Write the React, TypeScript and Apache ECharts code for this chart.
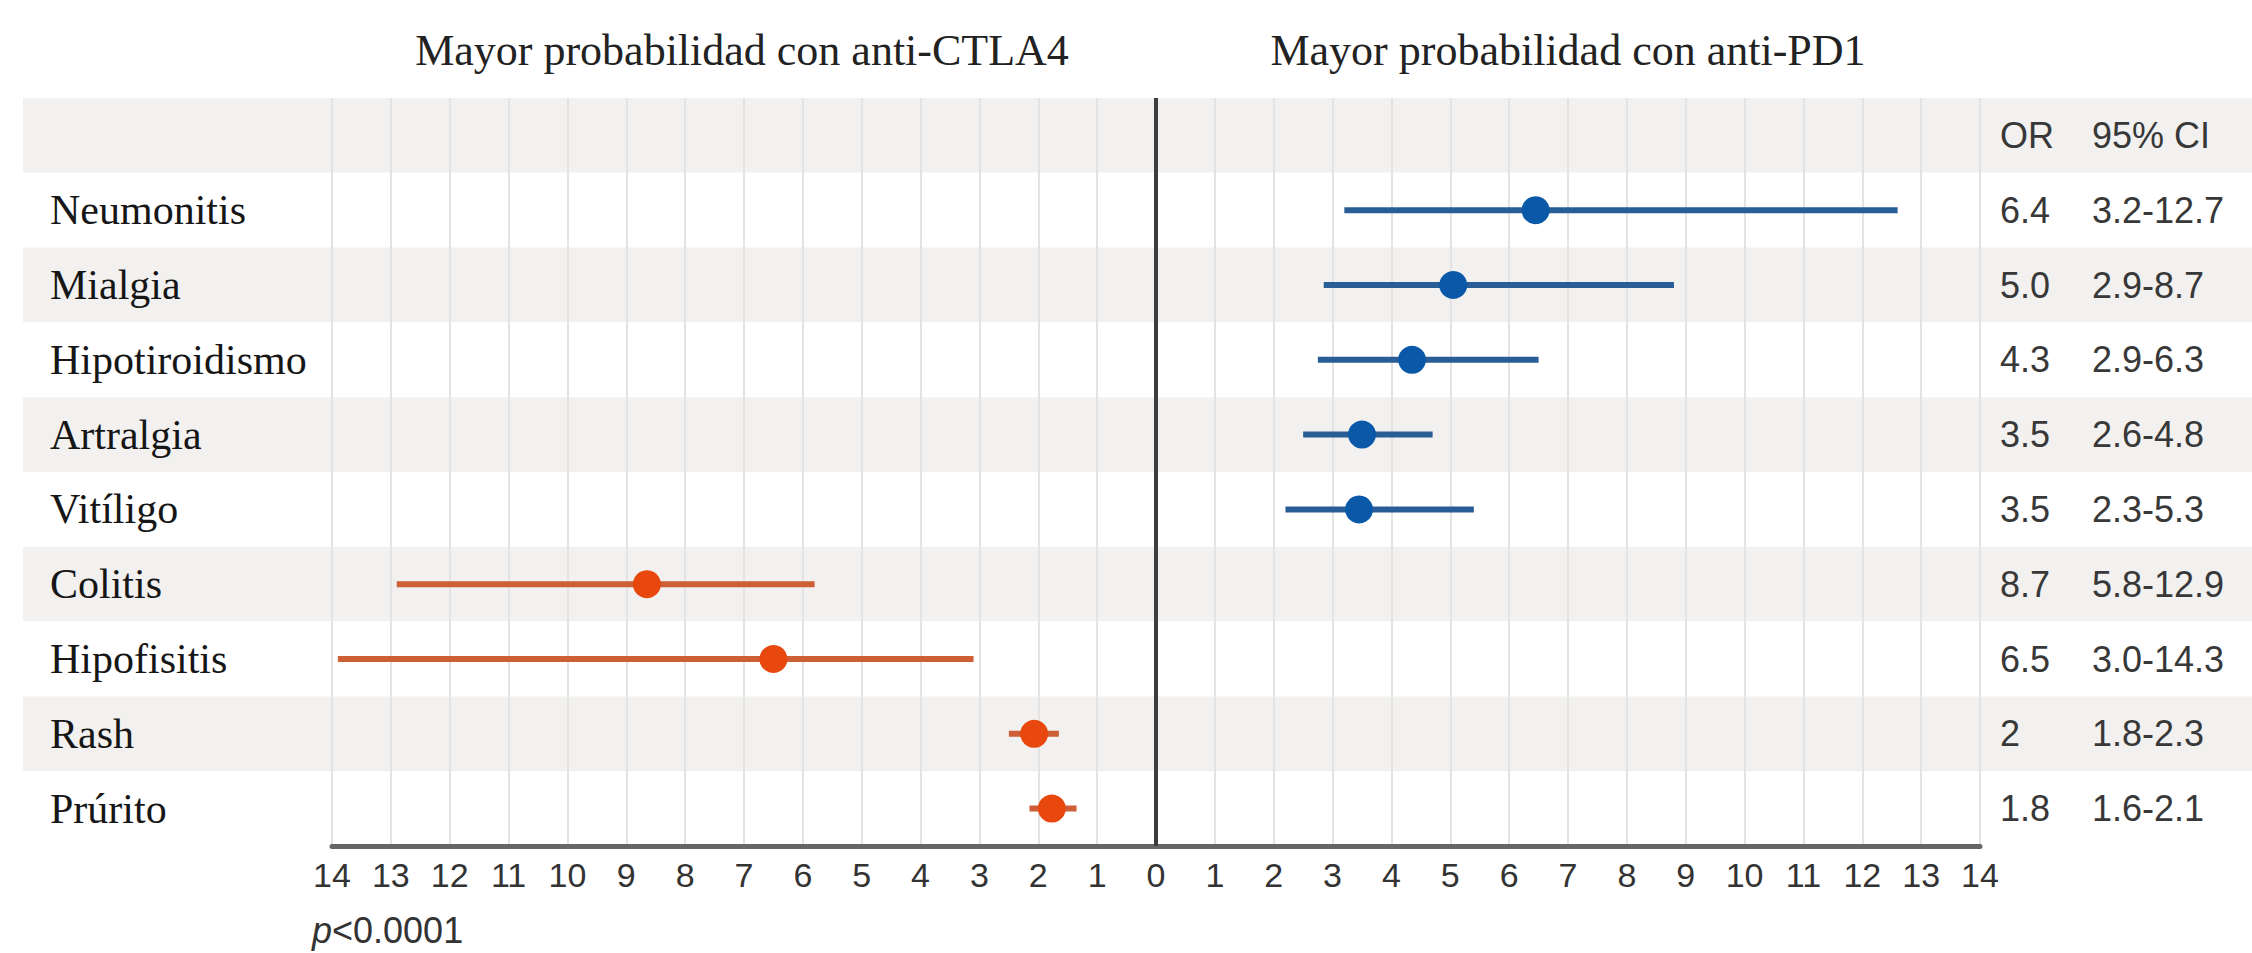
import React, { useEffect, useRef } from "react";
import * as echarts from "echarts";

const categories = ["Neumonitis", "Mialgia", "Hipotiroidismo", "Artralgia", "Vitíligo", "Colitis", "Hipofisitis", "Rash", "Prúrito"];
const favours = ["PD1", "PD1", "PD1", "PD1", "PD1", "CTLA4", "CTLA4", "CTLA4", "CTLA4"];
const oddsRatio = [6.45, 5.05, 4.35, 3.5, 3.45, 8.65, 6.5, 2.07, 1.77];
const ciLow = [3.2, 2.85, 2.75, 2.5, 2.2, 5.8, 3.1, 1.65, 1.35];
const ciHigh = [12.6, 8.8, 6.5, 4.7, 5.4, 12.9, 13.9, 2.5, 2.15];
const orLabels = ["6.4", "5.0", "4.3", "3.5", "3.5", "8.7", "6.5", "2", "1.8"];
const ciLabels = ["3.2-12.7", "2.9-8.7", "2.9-6.3", "2.6-4.8", "2.3-5.3", "5.8-12.9", "3.0-14.3", "1.8-2.3", "1.6-2.1"];
const headerOR = "OR";
const headerCI = "95% CI";
const titleLeft = "Mayor probabilidad con anti-CTLA4";
const titleRight = "Mayor probabilidad con anti-PD1";
const pValue = "<0.0001";
const axisMin = -14;
const axisMax = 14;
const axisInterval = 1;

const COLORS: Record<string, { line: string; dot: string }> = {
  PD1: { line: "#285e95", dot: "#0a58a8" },
  CTLA4: { line: "#cd5e36", dot: "#e8480e" },
};

export default function App() {
  const ref = useRef<HTMLDivElement>(null);
  useEffect(() => {
    if (!ref.current) return;
    const chart = echarts.init(ref.current, undefined, { renderer: "svg" });
    const rows = ["", ...categories];
    const sign = (i: number) => (favours[i] === "CTLA4" ? -1 : 1);
    const labelMap: Record<string, string> = { "": `{a|${headerOR}}{b|${headerCI}}` };
    categories.forEach((c, i) => {
      labelMap[c] = `{a|${orLabels[i]}}{b|${ciLabels[i]}}`;
    });

    const option: any = {
      animation: false,
      backgroundColor: "#ffffff",
      grid: [
        { left: 23, right: 0, top: 98, bottom: 107 },
        { left: 332, right: 272, top: 98, bottom: 107 },
      ],
      xAxis: [
        { gridIndex: 0, type: "value", min: 0, max: 1, show: false },
        {
          gridIndex: 1,
          type: "value",
          min: axisMin,
          max: axisMax,
          interval: axisInterval,
          axisLine: { show: true, onZero: false, lineStyle: { color: "#666666", width: 5 } },
          axisTick: { show: false },
          axisLabel: {
            margin: 12,
            color: "#333333",
            fontFamily: "Liberation Sans, Arial, sans-serif",
            fontSize: 34,
            formatter: (v: number) => String(Math.abs(v)),
          },
          splitLine: { show: true, lineStyle: { color: "#e3e3e3", width: 2 } },
        },
      ],
      yAxis: [
        {
          gridIndex: 0,
          type: "category",
          inverse: true,
          data: rows,
          axisLine: { show: false },
          axisTick: { show: false },
          axisLabel: {
            inside: true,
            margin: 27,
            color: "#161616",
            fontFamily: "Liberation Serif, Times New Roman, serif",
            fontSize: 42,
          },
          splitLine: { show: false },
          splitArea: { show: true, areaStyle: { color: ["#f2f1f0", "#ffffff"] } },
        },
        {
          gridIndex: 1,
          type: "category",
          inverse: true,
          data: rows,
          axisLine: { show: false },
          axisTick: { show: false },
          axisLabel: { show: false },
          splitLine: { show: false },
        },
        {
          gridIndex: 1,
          type: "category",
          position: "right",
          inverse: true,
          data: rows,
          axisLine: { show: false },
          axisTick: { show: false },
          splitLine: { show: false },
          axisLabel: {
            margin: 20,
            align: "left",
            formatter: (v: string) => labelMap[v] ?? "",
            rich: {
              a: { width: 92, fontSize: 36, color: "#383838", fontFamily: "Liberation Sans, Arial, sans-serif", align: "left" },
              b: { fontSize: 36, color: "#383838", fontFamily: "Liberation Sans, Arial, sans-serif", align: "left" },
            },
          },
        },
      ],
      series: [
        {
          type: "custom",
          xAxisIndex: 1,
          yAxisIndex: 1,
          z: 3,
          encode: { x: [0, 1], y: 2 },
          data: categories.map((c, i) => [sign(i) * ciLow[i], sign(i) * ciHigh[i], i + 1]),
          renderItem: (params: any, api: any) => {
            const y = api.value(2);
            const p1 = api.coord([api.value(0), y]);
            const p2 = api.coord([api.value(1), y]);
            const col = COLORS[favours[params.dataIndex]].line;
            return {
              type: "line",
              shape: { x1: p1[0], y1: p1[1], x2: p2[0], y2: p2[1] },
              style: { stroke: col, lineWidth: 6 },
            };
          },
        },
        {
          type: "scatter",
          xAxisIndex: 1,
          yAxisIndex: 1,
          z: 4,
          symbol: "circle",
          symbolSize: 28,
          data: categories.map((c, i) => ({
            value: [sign(i) * oddsRatio[i], i + 1],
            itemStyle: { color: COLORS[favours[i]].dot, opacity: 1 },
          })),
          markLine: {
            silent: true,
            symbol: "none",
            label: { show: false },
            lineStyle: { color: "#3d3d3d", width: 4, type: "solid" },
            data: [{ xAxis: 0 }],
          },
        },
      ],
      graphic: [
        {
          type: "text",
          x: 742,
          y: 50,
          style: {
            text: titleLeft,
            fontSize: 44,
            fontFamily: "Liberation Serif, Times New Roman, serif",
            fill: "#222222",
            align: "center",
            verticalAlign: "middle",
          },
        },
        {
          type: "text",
          x: 1568,
          y: 50,
          style: {
            text: titleRight,
            fontSize: 44,
            fontFamily: "Liberation Serif, Times New Roman, serif",
            fill: "#222222",
            align: "center",
            verticalAlign: "middle",
          },
        },
        {
          type: "text",
          x: 312,
          y: 930,
          style: {
            text: `{i|p}{n|${pValue}}`,
            verticalAlign: "middle",
            rich: {
              i: { fontSize: 36, fontStyle: "italic", fontFamily: "Liberation Sans, Arial, sans-serif", fill: "#333333" },
              n: { fontSize: 36, fontFamily: "Liberation Sans, Arial, sans-serif", fill: "#333333" },
            },
          },
        },
      ],
    };
    chart.setOption(option);
    return () => chart.dispose();
  }, []);
  return <div ref={ref} style={{ position: "fixed", left: 0, top: 0, width: 2252, height: 953 }} />;
}
